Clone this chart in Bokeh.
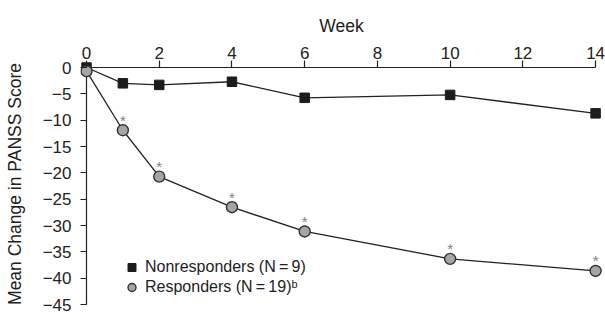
from bokeh.plotting import figure
from bokeh.models import Range1d, FixedTicker, Legend, LegendItem, ColumnDataSource
from bokeh.embed import file_html
from bokeh.resources import INLINE
from bokeh.core.properties import value

# ---- data ----
weeks = [0, 1, 2, 4, 6, 10, 14]
nonresponders = [0.0, -3.0, -3.3, -2.7, -5.75, -5.2, -8.7]
responders = [-0.7, -11.9, -20.7, -26.5, -31.1, -36.3, -38.6]
significant = [False, True, True, True, True, True, True]
x_ticks = [0, 2, 4, 6, 8, 10, 12, 14]
y_ticks = [0, -5, -10, -15, -20, -25, -30, -35, -40, -45]
x_label = "Week"
y_label = "Mean Change in PANSS Score"
series_labels = ["Nonresponders (N\u2009=\u20099)", "Responders (N\u2009=\u200919)\u1d47"]

FONT = "Liberation Sans"
TXT = "#222222"

p = figure(width=605, height=314, output_backend="svg", toolbar_location=None,
           x_axis_location="above",
           x_range=Range1d(-0.165, 14.19), y_range=Range1d(-45.34, 1.14),
           min_border_left=80, min_border_right=3, min_border_top=61, min_border_bottom=8)
p.outline_line_color = None
p.grid.visible = False
p.background_fill_color = "white"
p.border_fill_color = "white"

# axes (ticks reach from the frame edge to the zero lines)
xa = p.xaxis[0]
ya = p.yaxis[0]
xa.ticker = FixedTicker(ticks=x_ticks)
ya.ticker = FixedTicker(ticks=y_ticks)
ya.major_label_overrides = {t: (str(t).replace("-", "\u2212")) for t in y_ticks}
xa.axis_label = x_label
ya.axis_label = y_label
for ax in (xa, ya):
    ax.axis_line_color = None
    ax.major_tick_line_color = TXT
    ax.major_tick_line_width = 1.2
    ax.minor_tick_line_color = None
    ax.major_label_text_font = FONT
    ax.major_label_text_font_size = "17px"
    ax.major_label_text_color = TXT
    ax.axis_label_text_font = FONT
    ax.axis_label_text_font_size = "17.5px"
    ax.axis_label_text_font_style = "normal"
    ax.axis_label_text_color = TXT
xa.major_tick_out = 1
xa.major_tick_in = 6
xa.major_label_standoff = 2
xa.axis_label_standoff = 8
ya.major_tick_out = 0
ya.major_tick_in = 6
ya.major_label_standoff = 9
ya.axis_label_standoff = 15

# axis lines at zero, spanning the tick range
p.line(x=[min(x_ticks), max(x_ticks)], y=[max(y_ticks)] * 2, line_color=TXT, line_width=1.2)
p.line(x=[min(x_ticks)] * 2, y=[min(y_ticks), max(y_ticks)], line_color=TXT, line_width=1.2)

src = ColumnDataSource(dict(week=weeks, non=nonresponders, resp=responders))

p.line("week", "non", source=src, line_color=TXT, line_width=1.3)
sq = p.scatter("week", "non", source=src, marker="square", size=9.5,
               fill_color="#1c1c1c", line_color="#1c1c1c")
p.line("week", "resp", source=src, line_color=TXT, line_width=1.3)
ci = p.scatter("week", "resp", source=src, marker="circle", size=11,
               fill_color="#a5a5a5", line_color="#333333", line_width=1.4)

sig_x = [w for w, s in zip(weeks, significant) if s]
sig_y = [r for r, s in zip(responders, significant) if s]
p.text(x=sig_x, y=sig_y, text=["*"] * len(sig_x), text_font=value(FONT),
       text_font_size="15px", text_color="#808080", text_align="center",
       text_baseline="middle", y_offset=-10)

legend = Legend(items=[LegendItem(label=series_labels[0], renderers=[sq]),
                       LegendItem(label=series_labels[1], renderers=[ci])],
                location=(39, 9), orientation="vertical",
                glyph_width=25, glyph_height=20, label_standoff=1, spacing=0,
                padding=0, margin=0, border_line_color=None,
                background_fill_alpha=0,
                label_text_font=FONT, label_text_font_size="16px",
                label_text_color=TXT)
p.add_layout(legend)

open("out.html", "w").write(file_html(p, INLINE))
